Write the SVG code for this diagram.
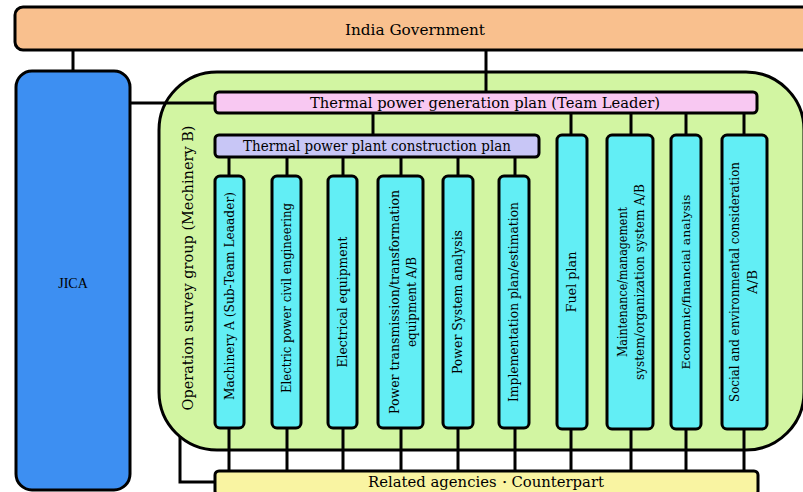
<svg xmlns="http://www.w3.org/2000/svg" width="803" height="492" viewBox="0 0 803 492">
  <style>
    .box { stroke: #000; stroke-width: 3; }
    .gov { fill: #f9c08e; }
    .jica { fill: #3d8ff2; }
    .group { fill: #d2f5a2; }
    .lead { fill: #f8c8f2; }
    .plan { fill: #c8c6f6; }
    .task { fill: #62eef5; }
    .agency { fill: #f9f4a2; }
    .wire { fill: none; stroke: #000; stroke-width: 3; }
    text { font-family: "DejaVu Serif", "Liberation Serif", serif; fill: #000; }
    .t13 { font-size: 14px; }
    .t12 { font-size: 12.5px; }
    .mid { text-anchor: middle; }
  </style>

  <rect width="803" height="492" fill="#ffffff"/>

  <!-- large containers -->
  <g id="india-government">
    <rect class="box gov" x="15" y="7" width="800" height="43" rx="8"/>
    <text class="t13 mid" x="415" y="35" textLength="140" lengthAdjust="spacingAndGlyphs">India Government</text>
  </g>

  <g id="jica">
    <rect class="box jica" x="16" y="71" width="114" height="419" rx="16"/>
    <text x="73" y="288" text-anchor="middle" style="font-family:'Liberation Serif',serif;font-size:14px">JICA</text>
  </g>

  <g id="operation-survey-group">
    <rect class="box group" x="159" y="72" width="645" height="378" rx="58"/>
    <text class="t13 mid" transform="translate(193 268) rotate(-90)" textLength="285" lengthAdjust="spacingAndGlyphs">Operation survey group (Mechinery B)</text>
  </g>

  <!-- connectors -->
  <g id="connectors" class="wire">
    <path d="M73 50V71"/>
    <path d="M486 50V92"/>
    <path d="M130 103H215"/>
    <path d="M373 113V135"/>
    <path d="M571 113V135M631 113V135M686 113V135M744 113V135"/>
    <path d="M229 157V176M287 157V176M343 157V176M401 157V176M458 157V176M515 157V176"/>
    <path d="M229 428V471M287 428V471M343 428V471M401 428V471M458 428V471M515 428V471"/>
    <path d="M571 429V471M631 429V471M686 429V471M744 429V471"/>
    <path d="M180 436V482H215"/>
  </g>

  <g id="thermal-power-generation-plan">
    <rect class="box lead" x="215" y="92" width="542" height="21" rx="4"/>
    <text class="t13 mid" x="485" y="108" textLength="350" lengthAdjust="spacingAndGlyphs">Thermal power generation plan (Team Leader)</text>
  </g>

  <g id="construction-plan">
    <rect class="box plan" x="215" y="135" width="324" height="22" rx="4"/>
    <text class="t13 mid" x="377" y="151" textLength="268" lengthAdjust="spacingAndGlyphs">Thermal power plant construction plan</text>
  </g>

  <g id="machinery-a">
    <rect class="box task" x="215" y="176" width="29" height="252" rx="5"/>
    <text class="t12 mid" transform="translate(234 296) rotate(-90)" textLength="208" lengthAdjust="spacingAndGlyphs">Machinery A (Sub-Team Leaader)</text>
  </g>

  <g id="civil-engineering">
    <rect class="box task" x="272" y="176" width="29" height="252" rx="5"/>
    <text class="t12 mid" transform="translate(291 298) rotate(-90)" textLength="190" lengthAdjust="spacingAndGlyphs">Electric power civil engineering</text>
  </g>

  <g id="electrical-equipment">
    <rect class="box task" x="328" y="176" width="29" height="252" rx="5"/>
    <text class="t12 mid" transform="translate(347 302) rotate(-90)" textLength="131" lengthAdjust="spacingAndGlyphs">Electrical equipment</text>
  </g>

  <g id="transmission-equipment">
    <rect class="box task" x="378" y="176" width="45" height="252" rx="5"/>
    <text class="t12 mid" transform="translate(399 302) rotate(-90)" textLength="224" lengthAdjust="spacingAndGlyphs">Power transmission/transformation</text>
    <text class="t12 mid" transform="translate(416 302) rotate(-90)" textLength="90" lengthAdjust="spacingAndGlyphs">equipment A/B</text>
  </g>

  <g id="power-system-analysis">
    <rect class="box task" x="443" y="176" width="30" height="252" rx="5"/>
    <text class="t12 mid" transform="translate(462 302) rotate(-90)" textLength="144" lengthAdjust="spacingAndGlyphs">Power System analysis</text>
  </g>

  <g id="implementation-plan">
    <rect class="box task" x="499" y="176" width="30" height="252" rx="5"/>
    <text class="t12 mid" transform="translate(518 302) rotate(-90)" textLength="200" lengthAdjust="spacingAndGlyphs">Implementation plan/estimation</text>
  </g>

  <g id="fuel-plan">
    <rect class="box task" x="557" y="135" width="30" height="294" rx="5"/>
    <text class="t12 mid" transform="translate(576 282) rotate(-90)" textLength="61" lengthAdjust="spacingAndGlyphs">Fuel plan</text>
  </g>

  <g id="maintenance-management">
    <rect class="box task" x="607" y="135" width="46" height="294" rx="5"/>
    <text class="t12 mid" transform="translate(627 282) rotate(-90)" textLength="150" lengthAdjust="spacingAndGlyphs">Maintenance/management</text>
    <text class="t12 mid" transform="translate(644 282) rotate(-90)" textLength="196" lengthAdjust="spacingAndGlyphs">system/organization system A/B</text>
  </g>

  <g id="economic-analysis">
    <rect class="box task" x="671" y="135" width="30" height="294" rx="5"/>
    <text class="mid" style="font-size:11px" transform="translate(690 282) rotate(-90)" textLength="175" lengthAdjust="spacingAndGlyphs">Economic/financial  analysis</text>
  </g>

  <g id="social-environmental">
    <rect class="box task" x="722" y="135" width="45" height="294" rx="5"/>
    <text class="t12 mid" transform="translate(739 282) rotate(-90)" textLength="240" lengthAdjust="spacingAndGlyphs">Social and environmental consideration</text>
    <text class="t12 mid" transform="translate(757 282) rotate(-90)" textLength="24" lengthAdjust="spacingAndGlyphs">A/B</text>
  </g>

  <g id="related-agencies">
    <rect class="box agency" x="215" y="471" width="543" height="24" rx="4"/>
    <text class="t13 mid" x="486" y="487" textLength="236" lengthAdjust="spacingAndGlyphs">Related agencies・Counterpart</text>
  </g>
</svg>
